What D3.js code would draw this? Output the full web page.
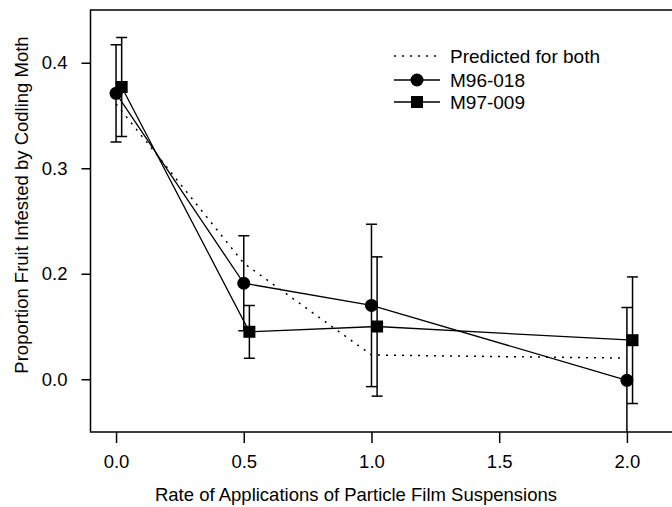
<!DOCTYPE html>
<html>
<head>
<meta charset="utf-8">
<script src="https://cdn.jsdelivr.net/npm/d3@7"></script>
<style>
  html, body { margin: 0; padding: 0; background: #fff; }
  svg { display: block; font-family: "Liberation Sans", Arial, sans-serif; }
</style>
</head>
<body>
<svg id="chart" width="672" height="507"></svg>
<script>
// ---- data ----
const rates = [0, 0.5, 1.0, 2.0];
const m96X = [0, 0.5, 1.0, 2.0];
const m96Y = [0.371, 0.191, 0.170, 0.099];
const m96Err = [0.046, 0.045, 0.077, 0.069];
const m97X = [0.022, 0.522, 1.022, 2.022];
const m97Y = [0.377, 0.145, 0.150, 0.137];
const m97Err = [0.047, 0.025, 0.066, 0.060];
const predictedY = [0.361, 0.210, 0.123, 0.120];
const xTickValues = [0, 0.5, 1.0, 1.5, 2.0];
const xTickLabels = ["0.0", "0.5", "1.0", "1.5", "2.0"];
const yTickValues = [0.1, 0.2, 0.3, 0.4];
const yTickLabels = ["0.0", "0.2", "0.3", "0.4"];
const legendLabels = ["Predicted for both", "M96-018", "M97-009"];
const xTitle = "Rate of Applications of Particle Film Suspensions";
const yTitle = "Proportion Fruit Infested by Codling Moth";

// ---- layout ----
const svg = d3.select("#chart");
const plot = { left: 90.5, right: 678, top: 10, bottom: 432 };
const x = d3.scaleLinear().domain([-0.1, 2.2]).range([plot.left, plot.right]);
const y = d3.scaleLinear().domain([0.05, 0.45]).range([plot.bottom, plot.top]);
const FONT = 18.5;

svg.append("defs").append("clipPath").attr("id", "clip")
  .append("rect")
  .attr("x", plot.left).attr("y", plot.top)
  .attr("width", plot.right - plot.left).attr("height", plot.bottom - plot.top);

// frame
svg.append("rect")
  .attr("x", plot.left).attr("y", plot.top)
  .attr("width", plot.right - plot.left).attr("height", plot.bottom - plot.top)
  .attr("fill", "none").attr("stroke", "#000").attr("stroke-width", 1.5);

// axes
const xAxis = svg.append("g")
  .attr("transform", `translate(0,${plot.bottom})`)
  .call(d3.axisBottom(x).tickValues(xTickValues)
    .tickFormat((d, i) => xTickLabels[i]).tickSize(11).tickSizeOuter(0).tickPadding(12));
xAxis.select(".domain").remove();
xAxis.selectAll(".tick line").attr("stroke", "#000").attr("stroke-width", 1.5);
xAxis.selectAll(".tick text").attr("font-size", FONT).attr("fill", "#000")
  .attr("font-family", "Liberation Sans, Arial, sans-serif");

const yAxis = svg.append("g")
  .attr("transform", `translate(${plot.left},0)`)
  .call(d3.axisLeft(y).tickValues(yTickValues)
    .tickFormat((d, i) => yTickLabels[i]).tickSize(9).tickSizeOuter(0).tickPadding(14));
yAxis.select(".domain").remove();
yAxis.selectAll(".tick line").attr("stroke", "#000").attr("stroke-width", 1.5);
yAxis.selectAll(".tick text").attr("font-size", FONT).attr("fill", "#000")
  .attr("font-family", "Liberation Sans, Arial, sans-serif");

// axis titles
svg.append("text")
  .attr("x", 356).attr("y", 501)
  .attr("text-anchor", "middle").attr("font-size", FONT)
  .text(xTitle);
svg.append("text")
  .attr("transform", `translate(28,205) rotate(-90)`)
  .attr("text-anchor", "middle").attr("font-size", FONT)
  .text(yTitle);

const g = svg.append("g").attr("clip-path", "url(#clip)");

// predicted (dotted)
const line = d3.line().x(d => x(d[0])).y(d => y(d[1]));
g.append("path")
  .datum(rates.map((r, i) => [r, predictedY[i]]))
  .attr("d", line)
  .attr("fill", "none").attr("stroke", "#000").attr("stroke-width", 1.5)
  .attr("stroke-dasharray", "2,6");

const series = [
  { xs: m96X, ys: m96Y, err: m96Err, shape: "circle" },
  { xs: m97X, ys: m97Y, err: m97Err, shape: "square" }
];

const capW = 11;
series.forEach(s => {
  const pts = s.xs.map((v, i) => ({ x: v, y: s.ys[i], e: s.err[i] }));
  // error bars
  const eb = g.append("g");
  pts.forEach(p => {
    eb.append("line")
      .attr("x1", x(p.x)).attr("x2", x(p.x))
      .attr("y1", y(p.y - p.e)).attr("y2", y(p.y + p.e))
      .attr("stroke", "#000").attr("stroke-width", 1.5);
    [p.y - p.e, p.y + p.e].forEach(v => {
      eb.append("line")
        .attr("x1", x(p.x) - capW / 2).attr("x2", x(p.x) + capW / 2)
        .attr("y1", y(v)).attr("y2", y(v))
        .attr("stroke", "#000").attr("stroke-width", 1.5);
    });
  });
  // connecting line
  g.append("path")
    .datum(pts.map(p => [p.x, p.y]))
    .attr("d", line)
    .attr("fill", "none").attr("stroke", "#000").attr("stroke-width", 1.3);
});

// markers
series.forEach(s => {
  s.xs.forEach((v, i) => {
    if (s.shape === "circle") {
      g.append("circle").attr("cx", x(v)).attr("cy", y(s.ys[i])).attr("r", 6.5).attr("fill", "#000");
    } else {
      g.append("rect").attr("x", x(v) - 6).attr("y", y(s.ys[i]) - 6)
        .attr("width", 12).attr("height", 12).attr("fill", "#000");
    }
  });
});

// legend
const leg = svg.append("g");
const legX0 = 394, legX1 = 440, legTextX = 450;
const legRows = [56, 80, 102];
leg.append("line").attr("x1", legX0).attr("x2", legX1).attr("y1", legRows[0]).attr("y2", legRows[0])
  .attr("stroke", "#000").attr("stroke-width", 1.5).attr("stroke-dasharray", "2,6");
[1, 2].forEach(k => {
  leg.append("line").attr("x1", legX0).attr("x2", legX1).attr("y1", legRows[k]).attr("y2", legRows[k])
    .attr("stroke", "#000").attr("stroke-width", 1.3);
});
const mx = (legX0 + legX1) / 2;
leg.append("circle").attr("cx", mx).attr("cy", legRows[1]).attr("r", 6.5).attr("fill", "#000");
leg.append("rect").attr("x", mx - 6).attr("y", legRows[2] - 6).attr("width", 12).attr("height", 12).attr("fill", "#000");
legendLabels.forEach((t, k) => {
  leg.append("text").attr("x", legTextX).attr("y", legRows[k]).attr("dy", "0.35em")
    .attr("font-size", FONT + 0.5).text(t);
});
</script>
</body>
</html>
